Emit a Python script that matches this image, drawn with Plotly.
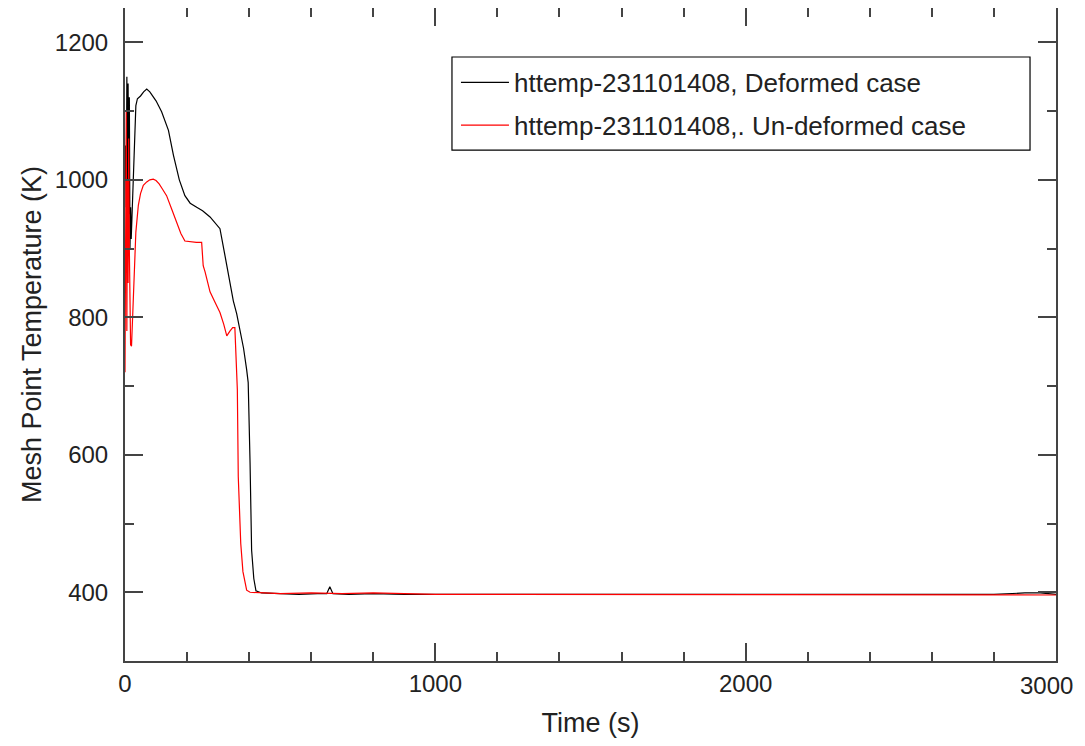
import plotly.graph_objects as go

# Deformed case (black)
t_def = [0, 2, 4, 6, 8, 10, 12, 14, 16, 18, 20, 22, 25, 30, 35, 40, 50, 60, 70, 80, 90, 100,
         118, 130, 140, 156, 175, 193, 210, 231, 250, 274, 290, 306, 322, 335, 349, 360, 371,
         382, 392, 397, 403, 408, 415, 422, 440, 500, 560, 620, 650, 660, 670, 720, 800, 900,
         1000, 1200, 1400, 1600, 1800, 2000, 2200, 2400, 2600, 2800, 2900, 2950, 3000]
T_def = [1000, 1050, 960, 1150, 930, 1140, 950, 1120, 900, 960, 914, 940, 992, 1060, 1108, 1118,
         1122, 1128, 1132, 1128, 1122, 1115, 1099, 1085, 1072, 1036, 1000, 977, 966, 960, 955,
         946, 938, 929, 890, 858, 824, 805, 778, 755, 724, 705, 588, 461, 420, 402, 399, 398,
         397, 398, 398, 408, 398, 397, 398, 397, 397, 397, 397, 397, 397, 397, 397, 397, 397,
         397, 399, 399, 397]

# Un-deformed case (red)
t_und = [0, 2, 4, 6, 8, 10, 12, 14, 16, 18, 21, 24, 27, 31, 35, 43, 50, 59, 70, 80, 91, 100,
         110, 120, 134, 150, 166, 180, 193, 210, 230, 247, 252, 258, 274, 290, 306, 318, 328,
         338, 347, 354, 362, 365, 369, 373, 380, 392, 403, 450, 500, 600, 700, 800, 900, 1000,
         1200, 1400, 1600, 1800, 2000, 2200, 2400, 2600, 2800, 2900, 3000]
T_und = [720, 900, 1100, 780, 1000, 850, 1060, 900, 820, 760, 758, 800, 841, 890, 924, 963, 980,
         992, 997, 1000, 1001, 999, 994, 987, 977, 958, 938, 922, 911, 910, 909, 909, 875, 866,
         837, 822, 807, 790, 773, 780, 785, 785, 695, 568, 520, 471, 430, 403, 400, 399, 398,
         399, 398, 399, 398, 397, 397, 397, 397, 397, 397, 397, 397, 397, 396, 397, 396]

names = ["httemp-231101408, Deformed case", "httemp-231101408,. Un-deformed case"]

# x tick labels; the last one ("3000") is drawn as an annotation kept inside the page edge
x_tickvals = [0, 1000, 2000, 3000]
x_ticktext = ["0", "1000", "2000", ""]
last_x_label = "3000"

FONT = "Liberation Sans, Arial, sans-serif"
TXT = "#222222"
AX = "#444444"

fig = go.Figure()
fig.add_trace(go.Scatter(x=t_def, y=T_def, mode="lines", name=names[0], legendgroup="a",
                         line=dict(color="black", width=1.2)))
fig.add_trace(go.Scatter(x=t_und, y=T_und, mode="lines", name=names[1], legendgroup="b",
                         line=dict(color="#ff0000", width=1.2)))

axis_common = dict(showline=True, linecolor=AX, linewidth=2, mirror="ticks", ticks="inside",
                   tickcolor=AX, tickwidth=1.5, ticklen=18, showgrid=False, zeroline=False,
                   automargin=False,
                   tickfont=dict(family=FONT, size=24, color=TXT),
                   title_font=dict(family=FONT, size=27, color=TXT))

fig.update_xaxes(range=[0, 3000], tickmode="array", tickvals=x_tickvals, ticktext=x_ticktext,
                 title_text="Time (s)", title_standoff=22, ticklabelstandoff=0,
                 minor=dict(ticks="inside", tick0=0, dtick=200, ticklen=9, tickcolor=AX,
                            tickwidth=1.5),
                 **axis_common)
fig.update_yaxes(range=[300, 1250], tick0=0, dtick=200, title_text="Mesh Point Temperature (K)",
                 title_standoff=5, ticklabelstandoff=10,
                 minor=dict(ticks="inside", dtick=100, ticklen=9, tickcolor=AX, tickwidth=1.5),
                 **axis_common)

fig.add_annotation(text=last_x_label, xref="paper", yref="paper", x=1, y=0,
                   xanchor="right", yanchor="middle", xshift=19, yshift=-24, showarrow=False,
                   font=dict(family=FONT, size=24, color=TXT))

# legend frame (reference frame is wider than the text)
fig.add_shape(type="rect", xref="paper", yref="paper", x0=0.3512, x1=0.9721, y0=0.7825, y1=0.925,
              line=dict(color="black", width=1.2), fillcolor="white", layer="above")

# page body adds an 8px offset; size the figure so it fits the 1085x746 window
fig.update_layout(
    width=1077, height=730,
    margin=dict(l=117, r=29, t=0, b=77),
    plot_bgcolor="white", paper_bgcolor="white",
    font=dict(family=FONT, color=TXT),
    legend=dict(x=0.3555, y=0.922, xanchor="left", yanchor="top",
                bgcolor="rgba(0,0,0,0)", borderwidth=0,
                font=dict(family=FONT, size=26, color=TXT),
                traceorder="grouped", tracegroupgap=6, itemwidth=48),
)

fig.write_html("out.html")
